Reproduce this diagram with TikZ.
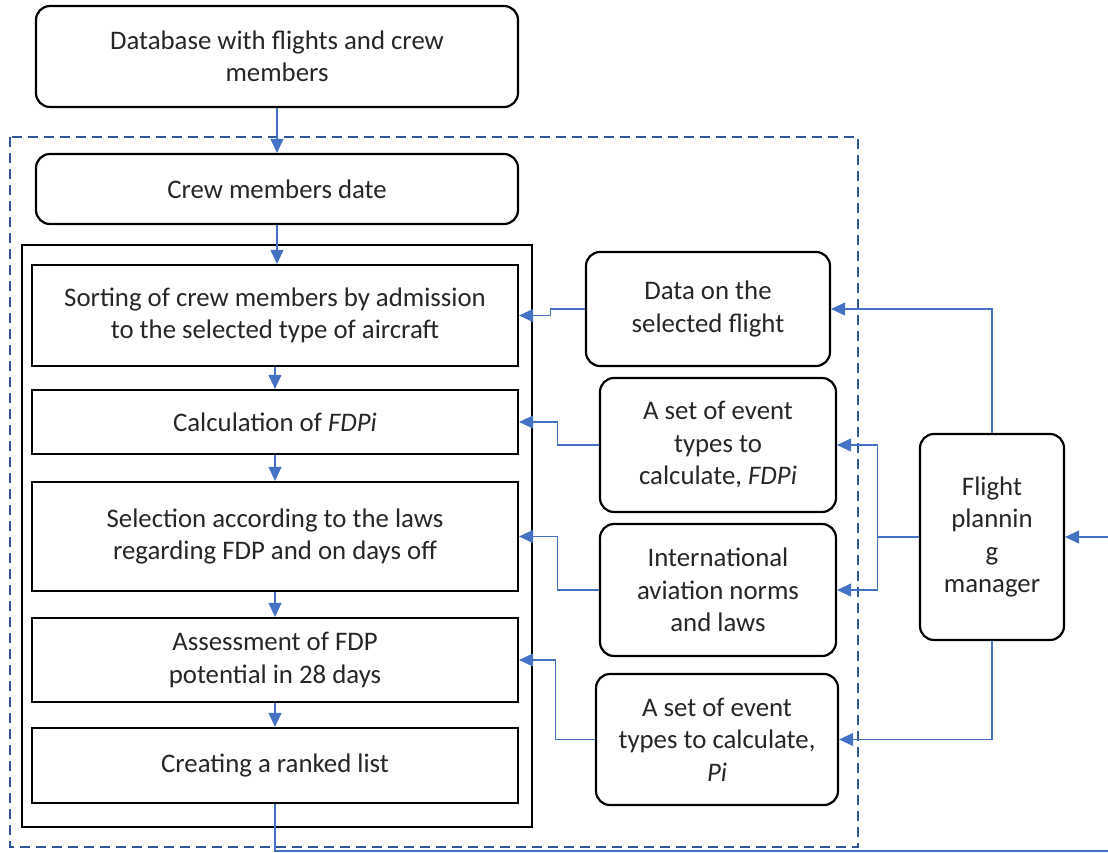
\documentclass[tikz,border=0pt]{standalone}
\usepackage{fontspec}
\setmainfont{Carlito}
\usetikzlibrary{arrows.meta,calc}
\definecolor{cblue}{HTML}{4472C4}
\definecolor{dblue}{HTML}{2F5597}
\definecolor{txt}{HTML}{262626}
\begin{document}
\begin{tikzpicture}[x=1pt,y=-1pt,
  box/.style={draw=black, line width=2.2pt, align=center, inner sep=0pt, text=txt,
    font=\fontsize{26.8}{32.5}\selectfont},
  rbox/.style={box, rounded corners=14pt},
  conn/.style={draw=cblue, line width=1.1pt, -{Triangle[length=14pt,width=13pt]}},
  line/.style={draw=cblue, line width=1.1pt}]
\useasboundingbox (0,0) rectangle (1108,853);
% dashed frame
\draw[dblue, line width=2.7pt, dash pattern=on 10pt off 6pt] (10,137) rectangle (858,847);
% inner frame
\draw[black, line width=2.2pt] (22,245) rectangle (532,827);
% nodes
\node[rbox, minimum width=482pt, minimum height=101pt] (db) at (277,56.5) {Database with flights and crew\\members};
\node[rbox, minimum width=482pt, minimum height=70pt] (crew) at (277,189) {Crew members date};
\node[box, minimum width=486pt, minimum height=101pt] (sort) at (275,315.5) {Sorting of crew members by admission\\to the selected type of aircraft};
\node[box, minimum width=486pt, minimum height=64pt] (calc) at (275,422) {Calculation of \textit{FDPi}};
\node[box, minimum width=486pt, minimum height=109pt] (sel) at (275,536.5) {Selection according to the laws\\regarding FDP and on days off};
\node[box, minimum width=486pt, minimum height=84pt] (ass) at (275,660) {Assessment of FDP\\potential in 28 days};
\node[box, minimum width=486pt, minimum height=75pt] (rank) at (275,765.5) {Creating a ranked list};
\node[rbox, minimum width=244pt, minimum height=114pt] (dflight) at (708,309) {Data on the\\selected flight};
\node[rbox, minimum width=236pt, minimum height=134pt] (setf) at (718,445) {A set of event\\types to\\calculate, \textit{FDPi}};
\node[rbox, minimum width=236pt, minimum height=132pt] (intl) at (718,590) {International\\aviation norms\\and laws};
\node[rbox, minimum width=242pt, minimum height=131pt] (setp) at (717,739.5) {A set of event\\types to calculate,\\\textit{Pi}};
\node[rbox, minimum width=144pt, minimum height=206pt] (mgr) at (992,537) {Flight\\plannin\\g\\manager};
\coordinate (outR) at (1108,537);
\coordinate (outB) at (1108,851);
% connectors
\draw[conn] (db.south) -- (crew.north);
\draw[conn] (crew.south) -- (crew.south |- sort.north);
\draw[conn] (sort.south) -- (calc.north);
\draw[conn] (calc.south) -- (sel.north);
\draw[conn] (sel.south) -- (ass.north);
\draw[conn] (ass.south) -- (rank.north);
\draw[conn] (dflight.west) -- ++(-34,0) |- (sort.east);
\draw[conn] (setf.west) -- ++(-41,0) |- (calc.east);
\draw[conn] (intl.west) -- ++(-41,0) |- (sel.east);
\draw[conn] (setp.west) -- ++(-39,0) |- (ass.east);
\draw[conn] (mgr.north) |- (dflight.east);
\draw[conn] (mgr.west) -- ++(-41,0) |- (setf.east);
\draw[conn] (mgr.west) -- ++(-41,0) |- (intl.east);
\draw[conn] (mgr.south) |- (setp.east);
\draw[conn] (outR) -- (mgr.east);
\draw[line] (rank.south) |- (outB);
\end{tikzpicture}
\end{document}
